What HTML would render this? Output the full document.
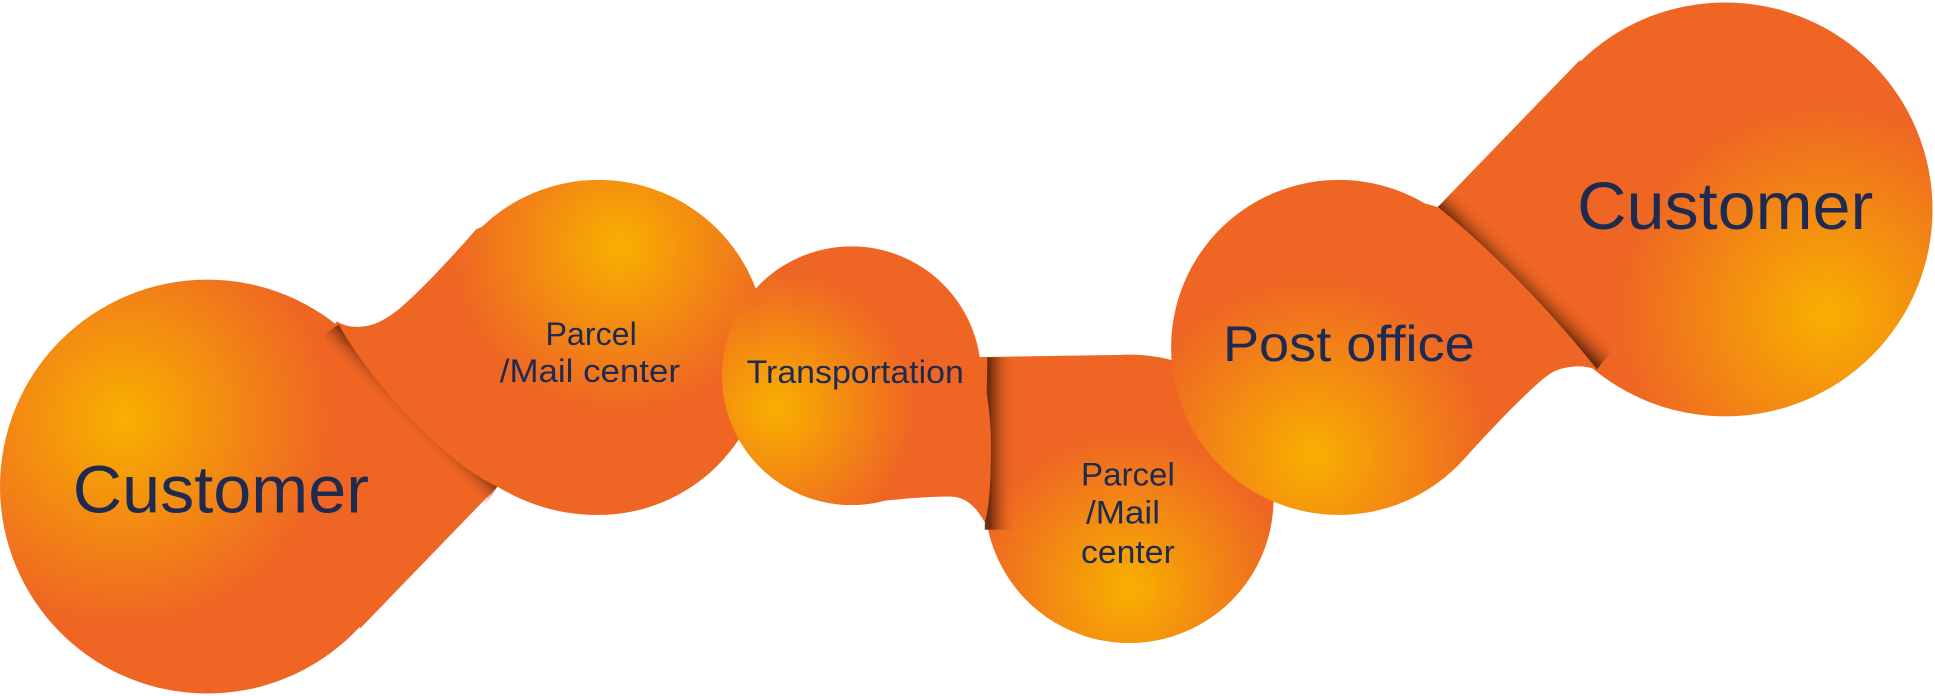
<!DOCTYPE html>
<html><head><meta charset="utf-8"><style>
html,body{margin:0;padding:0;background:#fff;width:1935px;height:696px;overflow:hidden}
svg{display:block}
text{font-family:"Liberation Sans",sans-serif;fill:#1e2a4f}
</style></head><body>
<svg width="1935" height="696" viewBox="0 0 1568 565" preserveAspectRatio="none" xmlns="http://www.w3.org/2000/svg">
<defs>
<radialGradient id="g1" cx="100" cy="340" r="200" gradientUnits="userSpaceOnUse"><stop offset="0" stop-color="#f8b000"/><stop offset="0.85" stop-color="#ee6524"/><stop offset="1" stop-color="#ee6524"/></radialGradient>
<radialGradient id="g2" cx="502" cy="200" r="170" gradientUnits="userSpaceOnUse"><stop offset="0" stop-color="#f8b000"/><stop offset="0.8" stop-color="#ee6524"/><stop offset="1" stop-color="#ee6524"/></radialGradient>
<radialGradient id="g3" cx="630" cy="332" r="140" gradientUnits="userSpaceOnUse"><stop offset="0" stop-color="#f8b000"/><stop offset="0.8" stop-color="#ee6524"/><stop offset="1" stop-color="#ee6524"/></radialGradient>
<radialGradient id="g4" cx="915" cy="478" r="150" gradientUnits="userSpaceOnUse"><stop offset="0" stop-color="#f8b000"/><stop offset="0.85" stop-color="#ee6524"/><stop offset="1" stop-color="#ee6524"/></radialGradient>
<radialGradient id="g5" cx="1064" cy="370" r="170" gradientUnits="userSpaceOnUse"><stop offset="0" stop-color="#f8b000"/><stop offset="0.85" stop-color="#ee6524"/><stop offset="1" stop-color="#ee6524"/></radialGradient>
<radialGradient id="g6" cx="1480" cy="255" r="200" gradientUnits="userSpaceOnUse"><stop offset="0" stop-color="#f8b000"/><stop offset="0.85" stop-color="#ee6524"/><stop offset="1" stop-color="#ee6524"/></radialGradient>
<linearGradient id="s1" x1="340" y1="330" x2="326" y2="344" gradientUnits="userSpaceOnUse"><stop offset="0" stop-color="#6a2a0c" stop-opacity="0.95"/><stop offset="1" stop-color="#ee6524" stop-opacity="0"/></linearGradient>
<linearGradient id="s2" x1="802" y1="0" x2="822" y2="0" gradientUnits="userSpaceOnUse"><stop offset="0" stop-color="#6a2a0c" stop-opacity="0.95"/><stop offset="1" stop-color="#ee6524" stop-opacity="0"/></linearGradient>
<linearGradient id="s3" x1="1230" y1="232" x2="1244" y2="218" gradientUnits="userSpaceOnUse"><stop offset="0" stop-color="#6a2a0c" stop-opacity="0.95"/><stop offset="1" stop-color="#ee6524" stop-opacity="0"/></linearGradient>
</defs>

<!-- left customer -->
<g fill="url(#g1)">
<circle cx="168" cy="395" r="168"/>
<path d="M273,261 L403,395 L292,510 L168,395 Z"/>
</g>
<path d="M275,263 C300,310 360,375 403,395 L392,412 C345,392 285,330 262,272 Z" fill="url(#s1)"/>

<!-- parcel 1 -->
<g fill="url(#g2)">
<circle cx="485" cy="282" r="136"/>
<path d="M273,261 C280,265 287,266 294,265 C305,264 314,258 322,252 C340,237 365,210 386,186 L485,146 L485,418 C450,418 425,408 403,395 C360,375 300,310 273,261 Z"/>
</g>

<!-- transportation connector + parcel 2 -->
<path d="M785,290 L917,288 C930,288 942,290 952,293 L1000,400 L915,405 L800,424 Z" fill="#ee6524"/>
<circle cx="915" cy="405" r="117" fill="url(#g4)"/>
<path d="M800,290 L824,290 L824,430 L798,430 Z" fill="url(#s2)"/>
<g fill="url(#g3)">
<circle cx="690" cy="305" r="105"/>
<path d="M784,262 C796,290 803,330 803,360 C803,390 802,410 798,424 C790,410 782,403 769,403 C740,403 710,408 690,408 Z"/>
</g>

<!-- right customer -->
<g fill="url(#g6)">
<circle cx="1398" cy="170" r="168"/>
<path d="M1165,168 L1280,49 L1398,170 L1294,300 Z"/>
</g>
<path d="M1165,168 C1202,197 1256,251 1294,300 L1306,285 C1270,240 1220,190 1178,156 Z" fill="url(#s3)"/>

<!-- post office -->
<g fill="url(#g5)">
<circle cx="1085" cy="282" r="136"/>
<path d="M1165,168 C1202,197 1256,251 1294,300 C1285,297 1278,297 1272,298 C1262,299 1256,303 1250,308 C1230,325 1205,352 1186,373 L1085,418 L1085,146 Z"/>
</g>

<text x="59" y="416" font-size="54" textLength="240" lengthAdjust="spacingAndGlyphs">Customer</text>
<text x="442" y="280" font-size="26" textLength="74" lengthAdjust="spacingAndGlyphs">Parcel</text>
<text x="405" y="310" font-size="26" textLength="146" lengthAdjust="spacingAndGlyphs">/Mail center</text>
<text x="605" y="311" font-size="26" textLength="176" lengthAdjust="spacingAndGlyphs">Transportation</text>
<text x="876" y="394" font-size="26" textLength="76" lengthAdjust="spacingAndGlyphs">Parcel</text>
<text x="880" y="425" font-size="26" textLength="60" lengthAdjust="spacingAndGlyphs">/Mail</text>
<text x="876" y="457" font-size="26" textLength="76" lengthAdjust="spacingAndGlyphs">center</text>
<text x="991" y="293" font-size="41" textLength="204" lengthAdjust="spacingAndGlyphs">Post office</text>
<text x="1278" y="186" font-size="54" textLength="240" lengthAdjust="spacingAndGlyphs">Customer</text>
</svg>
</body></html>
